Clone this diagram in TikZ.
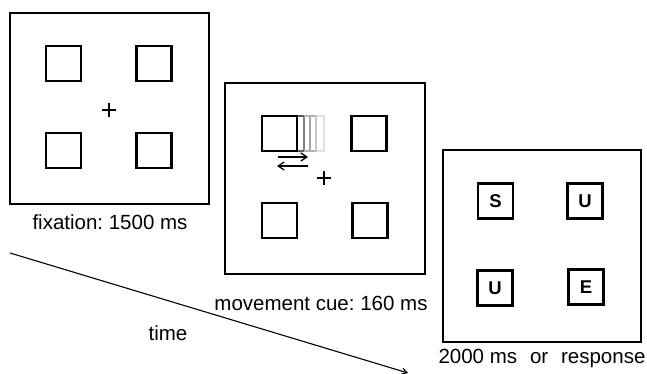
\documentclass[tikz,border=0pt]{standalone}
\usepackage{fontspec}
\setmainfont{Liberation Sans}
\usetikzlibrary{arrows.meta}
\frenchspacing
\begin{document}
\begin{tikzpicture}[x=1pt,y=-1pt,
  frame/.style={draw=black,line width=2.8pt,fill=white},
  sq/.style={draw=black,line width=2.5pt},
  lbl/.style={font=\fontsize{20.5}{22}\selectfont,inner sep=0pt},
  letter/.style={font=\fontsize{18.5}{19}\selectfont\bfseries,inner sep=0pt},
  cross/.style={line width=1.4pt}]
\useasboundingbox (0,0) rectangle (647,374);
\fill[white] (0,0) rectangle (647,374);

% time arrow
\coordinate (t0) at (10,253);
\coordinate (t1) at (408,373);
\draw[line width=1.1pt,-{Straight Barb[length=5pt,width=6pt]}] (t0) -- (t1);
\node[lbl] (time) at (168,333) {time};

% frame 1
\draw[frame] (10,13) rectangle (209,204);
\node[sq,minimum size=35pt] (f1a) at (63.5,63.5) {};
\node[sq,minimum size=35pt] (f1b) at (154,63.5) {};
\node[sq,minimum size=35pt] (f1c) at (63.5,150.5) {};
\node[sq,minimum size=35pt] (f1d) at (154,150.5) {};
\draw[cross] (102,110) -- (116,110) (109,103) -- (109,117);
\node[lbl] (l1) at (110,222) {fixation: 1500 ms};

% frame 2
\draw[frame] (225,83) rectangle (425,274);
% ghost trail
\draw[line width=2pt,black!12] (297,116) -- (324,116) -- (324,151) -- (297,151);
\draw[line width=2pt,black!22] (316,116) -- (316,151);
\draw[line width=2pt,black!35] (310,116) -- (310,151);
\draw[line width=2pt,black!50] (304,116) -- (304,151);
\draw[line width=1.8pt,black!30] (297,116) -- (316,116) (297,151) -- (316,151);
\draw[line width=2pt,black!65] (297,116) -- (304,116) (297,151) -- (304,151);
\node[sq,minimum size=35pt] (f2a) at (279.5,133.5) {};
\node[sq,minimum size=35pt] (f2b) at (369,133.5) {};
\node[sq,minimum size=35pt] (f2c) at (279.5,220.5) {};
\node[sq,minimum size=35pt] (f2d) at (370,220.5) {};
\coordinate (a1) at (278,157);
\coordinate (a2) at (308,157);
\coordinate (b1) at (308,166);
\coordinate (b2) at (277,166);
\draw[line width=1.3pt,-{Straight Barb[length=6pt,width=8pt]}] (a1) -- (a2);
\draw[line width=1.3pt,-{Straight Barb[length=6pt,width=8pt]}] (b1) -- (b2);
\draw[cross] (317,178) -- (331,178) (324,171) -- (324,185);
\node[lbl] (l2) at (321,303) {movement cue: 160 ms};

% frame 3
\draw[frame] (443,150) rectangle (641,342);
\node[sq,minimum size=35pt,letter] (s3a) at (495.5,201) {S};
\node[sq,minimum size=35pt,letter] (s3b) at (585,201) {U};
\node[sq,minimum size=35pt,letter] (s3c) at (495,288) {U};
\node[sq,minimum size=35pt,letter] (s3d) at (586,287) {E};
\node[lbl] (l3) at (542,358) {2000 ms\hspace{0.35em} or\hspace{0.35em} response};
\end{tikzpicture}
\end{document}
